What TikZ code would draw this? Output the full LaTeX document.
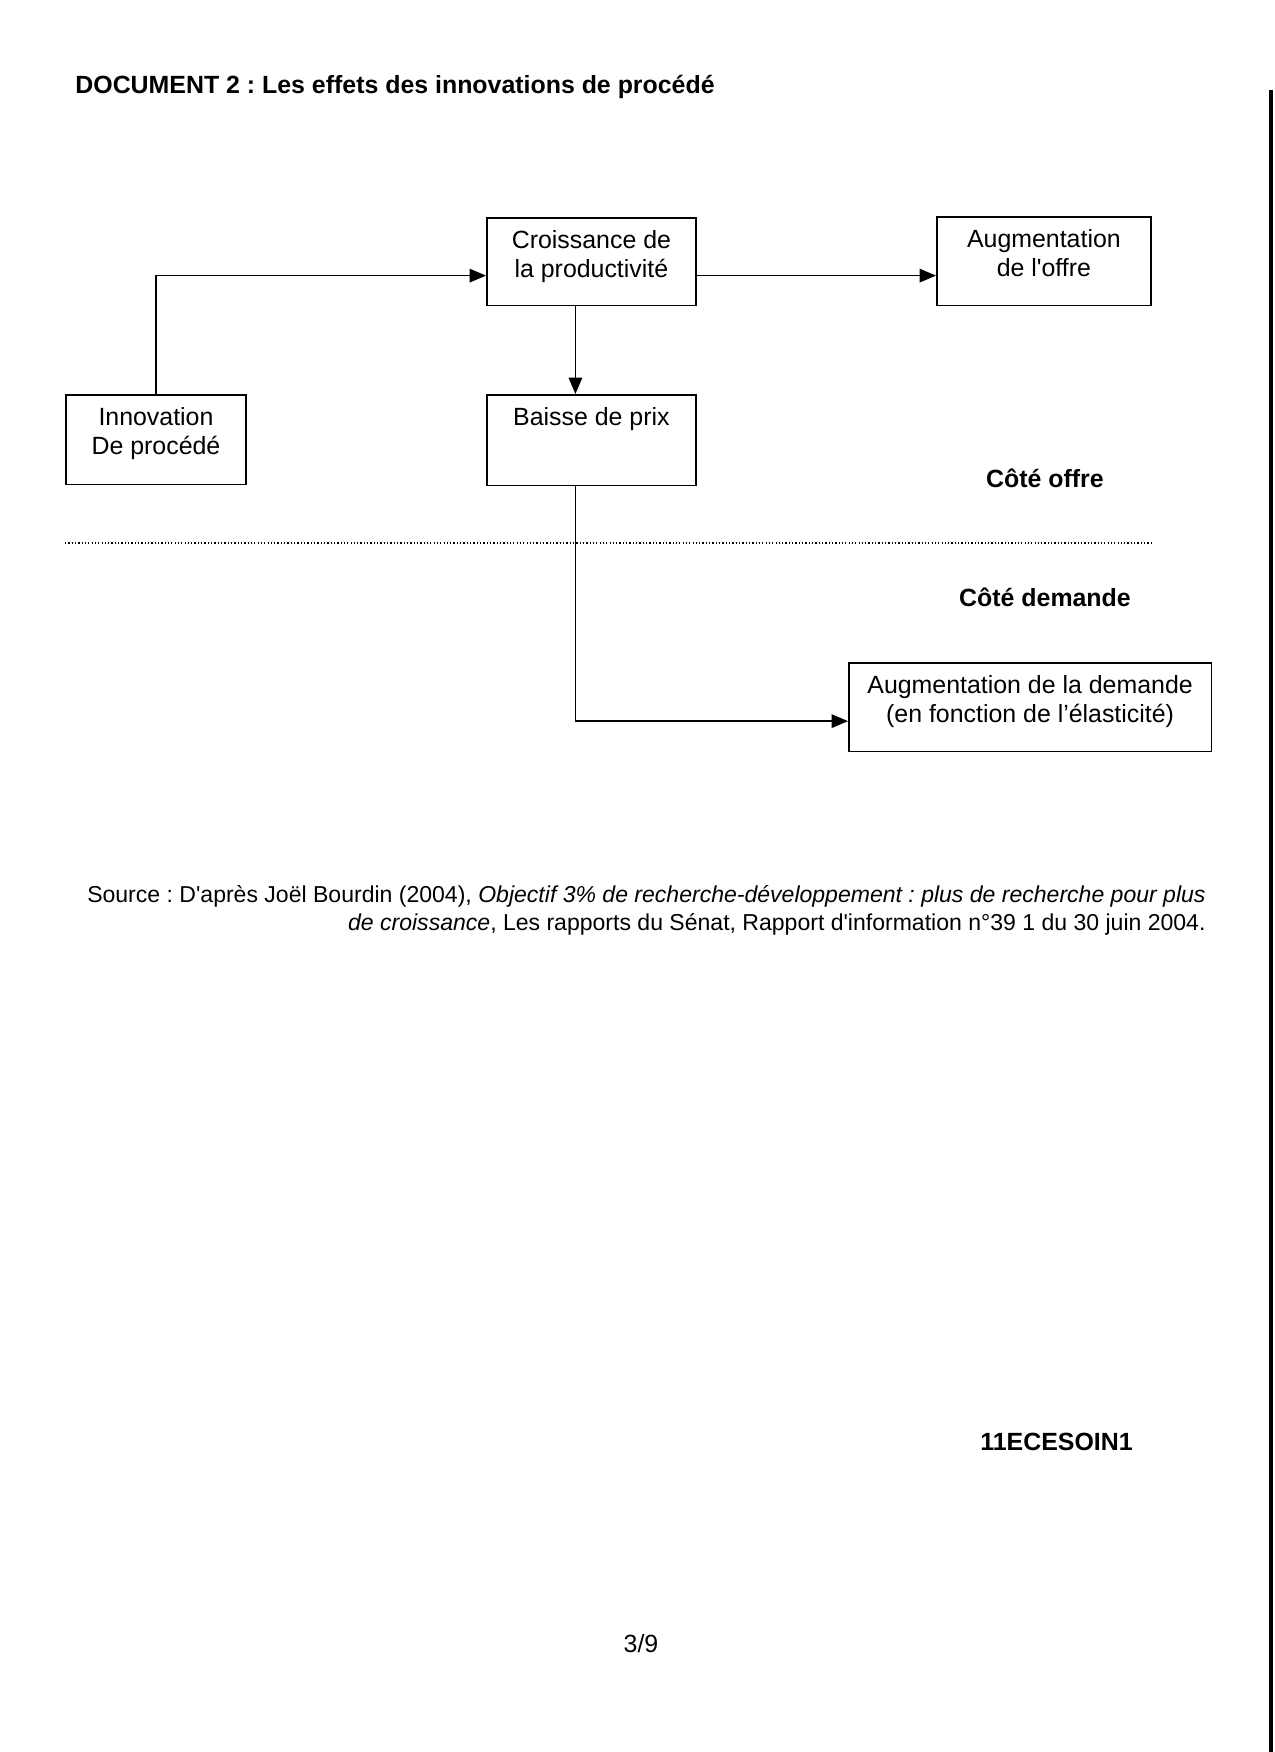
\documentclass[tikz,border=0pt]{standalone}
\usepackage{fontspec}
\setmainfont{Liberation Sans}[Ligatures=TeXOff]
\usetikzlibrary{arrows,calc}
\frenchspacing

\tikzset{
  boite/.style={draw, line width=0.8pt, inner sep=0pt, anchor=north west,
    font=\fontsize{12}{13.9}\selectfont},
  fleche/.style={->, >=triangle 45, line width=0.8pt},
  gras/.style={font=\fontsize{12}{14}\selectfont\bfseries, inner sep=0pt},
  normal/.style={font=\fontsize{12}{14}\selectfont, inner sep=0pt}
}
\newcommand{\boitetexte}[3]{\parbox[c][#2][t]{#1}{\centering\vspace*{6pt}#3}}

\begin{document}
\begin{tikzpicture}[x=0.016933cm, y=-0.016933cm]
	\useasboundingbox (0,0) rectangle (1275,1752);
	\node[gras, anchor=west] (Titre) at (75,87) {DOCUMENT 2 : Les effets des innovations de procédé};
%
	\node[boite] (Croi) at (486,217) {\boitetexte{100.8pt}{42.2pt}{Croissance de\\la productivité}};
	\node[boite] (AugO) at (936,216) {\boitetexte{103.2pt}{42.7pt}{Augmentation\\de l'offre}};
	\node[boite] (Inno) at (65,394) {\boitetexte{86.9pt}{43.2pt}{Innovation\\De procédé}};
	\node[boite] (Baisse) at (486,394) {\boitetexte{100.8pt}{43.7pt}{Baisse de prix}};
	\node[boite] (AugD) at (848,662) {\boitetexte{174.7pt}{42.7pt}{Augmentation de la demande\\(en fonction de l’élasticité)}};
%
	\draw[fleche] (Inno.north) |- ($(Croi.west) + (0,14)$);
	\draw[fleche] ($(Croi.east) + (0,14)$) coordinate (c1) -- (c1 -| AugO.west);
	\draw[fleche] ($(Croi.south) + (-16,0)$) -- ($(Baisse.north) + (-16,0)$);
	\draw[fleche] ($(Baisse.south) + (-16,0)$) |- ($(AugD.west) + (0,14)$);
%
	\coordinate (SepG) at (65,543);
	\coordinate (SepD) at (1151,543);
	\draw[densely dotted, line width=0.6pt] (SepG) -- (SepD);
	\node[gras] (Offre) at (1045,478) {Côté offre};
	\node[gras] (Demande) at (1045,597) {Côté demande};
%
	\node[font=\fontsize{11.1}{13.4}\selectfont, inner sep=0pt, anchor=north east, align=right] (Source) at (1206,885)
		{Source : D'après Joël Bourdin (2004), \textit{Objectif 3\% de recherche-développement : plus de recherche pour plus}\\
		\textit{de croissance}, Les rapports du Sénat, Rapport d'information n°39 1 du 30 juin 2004.};
	\node[gras, anchor=west] (Code) at (980,1442) {11ECESOIN1};
	\node[normal] (Page) at (641,1644) {3/9};
%
	\draw[line width=1.5pt] (1271,90) -- (1271,1752);
\end{tikzpicture}
\end{document}
